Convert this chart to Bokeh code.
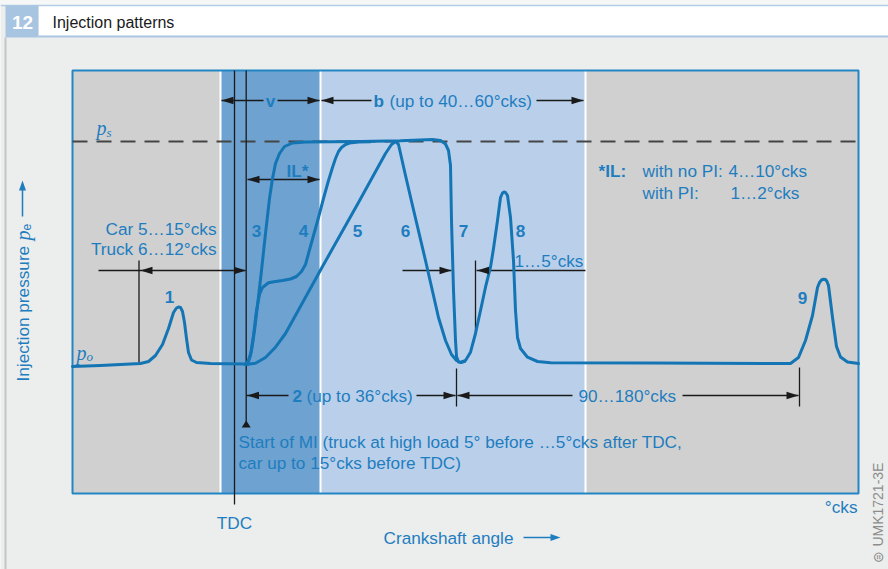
from math import pi
from bokeh.plotting import figure
from bokeh.models import Range1d, Label
from bokeh.embed import file_html
from bokeh.resources import INLINE

# ---------------- data: crank angle in schematic units (TDC = 0), pressure relative to p_o ----------------
phase_edges = [-162, -14, 86, 351, 624]
phase_colors = ["#D0D0D0", "#6EA2D0", "#BAD0EA", "#D0D0D0"]
p_s_level = 222
p_o_level = 0
tdc_angle = 0
mi_start_angle = 11.7

# pattern 1: pilot injection on the base pressure line
pilot_angle = [-162, -134, -94, -86, -79, -72, -66, -61, -58, -56, -54, -52, -50, -48, -46, -43, -38, -24, 12]
pilot_pressure = [-3, -2, 0, 2, 8, 19, 35, 51, 55.5, 56.5, 56, 52, 41, 25, 11, 3.5, 1, 0, -0.5]

# patterns 3 + 7: steep rise, plateau, abrupt end
rect_angle = [11, 14, 17, 20, 23, 27, 31, 35, 38, 41, 45, 50, 58, 71, 126, 166, 198, 206, 211, 214, 216, 217, 219, 221, 222, 224]
rect_pressure = [-1, 3, 13, 33, 58, 93, 130, 165, 185, 200, 210, 217, 220.5, 221.5, 222, 222.7, 224, 223, 219.5, 213, 198, 143, 73, 23, 7, 1.5]

# pattern 4: boot shaped rise
boot_angle = [13, 16, 19, 22, 25, 28, 34, 41, 48, 56, 62, 67, 71, 74, 79, 84, 89, 94, 98, 101, 104, 107, 111, 115, 124, 136]
boot_pressure = [-1, 8, 28, 53, 69, 76, 80.7, 82, 83, 84.5, 87, 92, 99, 110, 128, 146, 165, 183, 196, 205, 212, 216, 219, 220.5, 221.5, 221.7]

# patterns 5 + 6: ramp rise, triangular fall
ramp_angle = [11, 21, 31, 41, 51, 88, 124, 151, 157, 161, 164, 171, 178, 191, 204, 211, 217, 222, 226, 230]
ramp_pressure = [-1, 0.3, 6, 16.3, 30, 97, 161, 210, 219, 222, 219, 188, 158, 103, 46, 23, 9, 3, 1, 2]

# patterns 8 + 9: post injections
post_angle = [226, 231, 236, 241, 246, 251, 256, 259, 263, 266, 268, 269.5, 271, 273, 276, 279, 281, 283, 286, 293, 303, 316, 416,
              556, 564, 571, 578, 583, 585, 587, 589, 591, 592.5, 594, 598, 602, 606, 613, 624]
post_pressure = [1, 3, 11.3, 30, 53, 76.3, 96.3, 115, 143, 166, 170.5, 171.5, 171, 168, 146, 103, 53, 26, 15, 6.3, 2, 0.7, 0.5,
                 0, 6, 23, 48, 76, 81, 83.5, 84.3, 84, 82, 78, 46, 17, 6.5, 1.5, 0]

curve_numbers = ["1", "3", "4", "5", "6", "7", "8", "9"]

# ---------------- layout helpers (page pixel -> data) ----------------
def X(px):
    return px - 234

def Y(py):
    return 363 - py

FONT = "Liberation Sans"
SERIF = "Liberation Serif"
BLUE_TXT = "#1E7DBF"
CURVE = "#1475B5"
BLACK = "#1a1a1a"

p = figure(width=888, height=569, x_range=Range1d(X(0), X(888)), y_range=Range1d(Y(569), Y(0)),
           min_border=0, toolbar_location=None, output_backend="svg",
           x_axis_location=None, y_axis_location=None,
           background_fill_color="#ECEEED", border_fill_color="#ECEEED", outline_line_color=None)
p.grid.visible = False

# header
p.quad(left=X(0), right=X(888), top=Y(0), bottom=Y(5), fill_color="#F6F7F7", line_color=None)
p.quad(left=X(38), right=X(888), top=Y(5), bottom=Y(35), fill_color="white", line_color=None)
p.segment(x0=X(0), y0=Y(5), x1=X(888), y1=Y(5), line_color="#B4CDE6", line_width=1.5)
p.segment(x0=X(38), y0=Y(36), x1=X(888), y1=Y(36), line_color="#A9C6E3", line_width=2)
p.quad(left=X(5), right=X(38), top=Y(5), bottom=Y(37), fill_color="#A7C4E0", line_color=None)
p.segment(x0=X(5), y0=Y(37), x1=X(5), y1=Y(569), line_color="#C4C6C6", line_width=2)

# plot area phases
top_v, bot_v = Y(70), Y(493)
p.quad(left=phase_edges[:-1], right=phase_edges[1:], top=top_v, bottom=bot_v,
       fill_color=phase_colors, line_color=None)
p.segment(x0=phase_edges[1:-1], y0=[top_v] * 3, x1=phase_edges[1:-1], y1=[bot_v] * 3,
          line_color="white", line_width=2)
p.quad(left=phase_edges[0], right=phase_edges[-1], top=top_v, bottom=bot_v,
       fill_color=None, line_color="#2285C4", line_width=2)

# p_s dashed line
p.line([phase_edges[0], phase_edges[-1]], [p_s_level, p_s_level], line_color="#454545",
       line_width=2, line_dash="15 9")

# black construction lines
vert = [(tdc_angle, 70, 504), (mi_start_angle, 70, 424), (X(138.5), 260, 363), (X(475), 260, 333),
        (X(456), 368, 406), (X(799), 367, 406)]
p.segment(x0=[v[0] for v in vert], y0=[Y(v[1]) for v in vert], x1=[v[0] for v in vert],
          y1=[Y(v[2]) for v in vert], line_color=BLACK, line_width=1.3)
horiz = [(221, 263, 100), (277, 319, 100), (321, 371, 100), (536, 583, 100), (247, 319, 179),
         (98, 245, 270), (402, 451, 270), (476, 585, 270),
         (246, 288, 395), (416, 455, 395), (457, 572, 395), (682, 798, 395)]
p.segment(x0=[X(h[0]) for h in horiz], y0=[Y(h[2]) for h in horiz], x1=[X(h[1]) for h in horiz],
          y1=[Y(h[2]) for h in horiz], line_color=BLACK, line_width=1.3)

# curves
for xs, ys in [(pilot_angle, pilot_pressure), (rect_angle, rect_pressure), (boot_angle, boot_pressure),
               (ramp_angle, ramp_pressure), (post_angle, post_pressure)]:
    p.line(xs, ys, line_color=CURVE, line_width=3, line_join="round", line_cap="round")

# arrowheads
def head(tx, ty, d, L=12, w=3.8):
    if d == "left":
        pts = [(tx, ty), (tx + L, ty - w), (tx + L, ty + w)]
    elif d == "right":
        pts = [(tx, ty), (tx - L, ty - w), (tx - L, ty + w)]
    elif d == "up":
        pts = [(tx, ty), (tx - w, ty + L), (tx + w, ty + L)]
    else:
        pts = [(tx, ty), (tx - w, ty - L), (tx + w, ty - L)]
    return [X(a) for a, b in pts], [Y(b) for a, b in pts]

heads = [(221, 100, "left"), (319, 100, "right"), (321, 100, "left"), (583, 100, "right"),
         (247, 179, "left"), (319, 179, "right"), (140, 270, "left"), (245.5, 270, "right"),
         (451, 270, "right"), (476.5, 270, "left"), (246.5, 395, "left"), (455, 395, "right"),
         (457, 395, "left"), (798, 395, "right")]
hx, hy = [], []
for h in heads:
    a, b = head(*h)
    hx.append(a)
    hy.append(b)
a, b = head(245.7, 420, "up", L=7, w=4.5)
hx.append(a)
hy.append(b)
p.patches(hx, hy, fill_color=BLACK, line_color=None)

# axis arrows (blue)
p.segment(x0=X(22), y0=Y(216), x1=X(22), y1=Y(188), line_color=BLUE_TXT, line_width=1.5)
p.segment(x0=X(523), y0=Y(537), x1=X(552), y1=Y(537), line_color=BLUE_TXT, line_width=1.5)
a1, b1 = head(22, 180, "up", L=10, w=3.5)
a2, b2 = head(560, 537, "right", L=10, w=3.5)
p.patches([a1, a2], [b1, b2], fill_color=BLUE_TXT, line_color=None)


def lab(text, px, py, size=17.2, align="left", bold=False, italic=False, color=BLUE_TXT, font=FONT, angle=0):
    style = "bold" if bold else ("italic" if italic else "normal")
    p.add_layout(Label(x=X(px), y=Y(py), text=text, text_font=font, text_font_size=f"{size}px",
                       text_font_style=style, text_color=color, text_align=align,
                       text_baseline="middle", angle=angle))

# header texts
lab("12", 22, 22, size=19, align="center", bold=True, color="white")
lab("Injection patterns", 52, 22, size=16, color="#1a1a1a")

# annotations
lab("Car 5…15°cks", 216, 228, align="right")
lab("Truck 6…12°cks", 216, 248, align="right")
lab("v", 270, 100, align="center", bold=True)
lab("b", 373, 100, bold=True)
lab("(up to 40…60°cks)", 389, 100)
lab("IL*", 286, 170, bold=True)
lab("*IL:", 598, 170, bold=True)
lab("with no PI:", 642, 170)
lab("4…10°cks", 728, 170)
lab("with PI:", 642, 192)
lab("1…2°cks", 730, 192)
lab("1…5°cks", 514, 260)
lab("2", 292, 395, bold=True)
lab("(up to 36°cks)", 306, 395)
lab("90…180°cks", 578, 395)
lab("Start of MI (truck at high load 5° before …5°cks after TDC,", 238, 441)
lab("car up to 15°cks before TDC)", 238, 462)
lab("TDC", 234, 522, align="center")
lab("°cks", 857, 506, align="right")
lab("Crankshaft angle", 383, 537)

num_pos = [(169, 296), (256, 230), (303, 230), (357, 230), (405, 230), (463, 230), (520, 230), (802, 297)]
for t, (px, py) in zip(curve_numbers, num_pos):
    lab(t, px, py, align="center", bold=True)

# pressure symbols
lab("p", 96, 127, size=20, italic=True, font=SERIF)
lab("s", 106, 132, size=13, italic=True, font=SERIF)
lab("p", 76, 352, size=20, italic=True, font=SERIF)
lab("o", 86, 356, size=13, italic=True, font=SERIF)

# y axis title
lab("Injection pressure", 22, 381, angle=pi / 2)
lab("p", 22, 240, size=20, italic=True, font=SERIF, angle=pi / 2)
lab("e", 26, 230, size=12, angle=pi / 2)

# code
lab("⊜ UMK1721-3E", 877, 562, size=14, color="#8c8c8c", angle=pi / 2)

open("out.html", "w").write(file_html(p, INLINE))
